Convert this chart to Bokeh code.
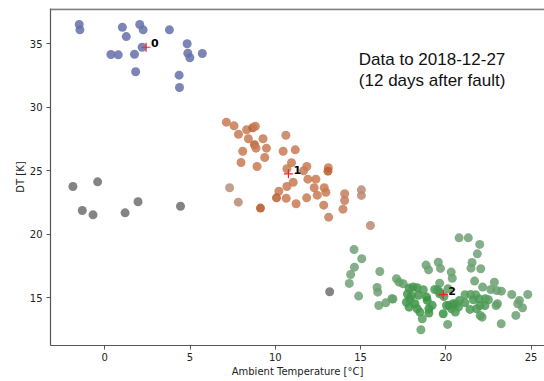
from bokeh.plotting import figure
from bokeh.models import Span, Label, Range1d
from bokeh.core.properties import value
from bokeh.embed import file_html
from bokeh.resources import INLINE

# ---- data ----
blue_x = [-1.50, -1.46, 1.03, 2.05, 2.25, 3.79, 1.26, 2.19, 0.36, 0.79, 1.74, 4.83, 4.87, 4.99, 5.72, 1.81, 4.36, 4.38]
blue_y = [36.52, 36.10, 36.30, 36.52, 36.10, 36.10, 35.57, 34.73, 34.16, 34.13, 34.18, 35.00, 34.26, 33.90, 34.24, 32.80, 32.53, 31.56]

noise_x = [-1.87, -0.42, -1.32, -0.69, 1.19, 1.95, 4.44, 13.19]
noise_y = [23.76, 24.13, 21.87, 21.53, 21.69, 22.56, 22.21, 15.47]

orange_x = [7.13, 7.58, 7.84, 8.32, 8.68, 8.83, 8.42, 8.78, 8.87, 9.28, 9.48, 8.09, 7.99, 8.93, 9.38,
            10.62, 10.46, 11.17, 10.95, 10.68, 11.85, 11.66, 13.11, 13.09, 11.91, 12.38, 11.05, 10.68,
            12.28, 12.87, 12.97, 12.46, 10.21, 10.07, 10.64, 11.22, 11.84, 12.84, 9.13, 14.07, 14.07,
            13.97, 13.13, 15.05, 15.05, 7.32, 7.83, 15.58]
orange_y = [28.83, 28.54, 27.88, 28.23, 28.39, 28.51, 27.52, 27.05, 26.78, 27.52, 26.78, 26.54, 25.65, 25.34, 26.05,
            27.80, 26.54, 26.65, 25.63, 25.16, 25.34, 25.00, 25.24, 24.97, 24.34, 24.34, 24.10, 23.76,
            23.66, 23.66, 23.31, 23.08, 23.39, 22.87, 22.84, 22.40, 22.87, 22.29, 22.06, 23.19, 22.66,
            21.98, 21.35, 23.50, 23.06, 23.66, 22.53, 20.69]
orange_p = [0.6, 0.6, 0.6, 0.6, 0.9, 0.6, 0.6, 0.9, 0.6, 0.6, 0.6, 0.6, 0.6, 0.6, 0.6,
            0.5, 0.6, 0.6, 0.6, 0.6, 0.6, 0.6, 0.6, 0.9, 0.6, 0.6, 0.6, 0.6,
            0.6, 0.6, 0.6, 0.6, 0.6, 0.9, 0.6, 0.6, 0.6, 0.6, 1.0, 0.5, 0.5,
            0.5, 0.5, 0.25, 0.25, 0.15, 0.25, 0.3]

green_x = [14.62, 15.07, 14.64, 14.42, 14.34, 14.89, 16.13, 15.97, 16.01, 16.07, 16.48, 16.84, 17.11, 17.26, 17.50,
           17.85, 18.09, 18.32, 17.75, 17.99, 17.69, 17.85, 18.19, 18.32, 18.68, 18.87, 18.91, 19.01, 19.01, 18.48,
           18.62, 18.54, 18.84, 18.99, 19.56, 19.69, 20.32, 20.38, 19.64, 19.52, 19.66, 19.89, 19.85, 20.11, 20.21,
           20.34, 20.60, 20.74, 20.56, 20.78, 21.32, 21.99, 21.85, 21.54, 21.48, 22.05, 21.69, 22.16, 21.13, 21.46,
           21.75, 21.62, 21.95, 22.32, 22.50, 21.42, 21.81, 22.01, 22.13, 22.64, 22.85, 22.99, 23.26, 23.03, 22.95,
           23.25, 23.87, 24.32, 24.22, 24.50, 24.11, 24.81, 19.35, 19.64, 20.13, 20.04, 20.43, 20.80, 21.13, 22.30,
           22.02, 18.40, 17.90, 16.90, 19.20]
green_y = [18.80, 18.07, 17.41, 16.83, 16.13, 15.13, 17.07, 15.81, 15.44, 14.39, 14.60, 14.92, 16.50, 16.23, 16.10,
           15.76, 15.84, 15.79, 15.30, 15.17, 14.65, 14.26, 14.53, 14.13, 15.63, 15.05, 14.79, 14.13, 13.79, 13.87,
           13.35, 12.48, 17.57, 17.20, 17.80, 17.31, 17.02, 16.54, 16.15, 15.63, 15.44, 15.10, 13.74, 12.90, 14.39,
           14.13, 14.53, 14.26, 13.87, 19.72, 19.72, 19.20, 18.46, 17.78, 17.33, 17.28, 16.31, 15.84, 15.24, 15.26,
           15.24, 14.84, 14.92, 14.92, 14.84, 14.08, 14.13, 14.39, 13.47, 15.65, 16.23, 15.57, 15.52, 14.53, 14.39,
           12.95, 15.26, 14.79, 14.53, 14.21, 13.61, 15.26, 15.65, 15.31, 15.71, 14.39, 14.53, 14.79, 14.60, 14.39,
           13.60, 15.20, 14.90, 14.90, 14.40]
green_p = [0.3, 0.3, 0.3, 0.3, 0.3, 0.3, 0.3, 0.35, 0.35, 0.35, 0.5, 0.6, 0.5, 0.6, 0.6,
           0.9, 0.9, 0.9, 0.9, 0.9, 0.9, 0.9, 1.0, 0.9, 0.8, 1.0, 1.0, 1.0, 0.9, 0.9,
           0.7, 0.6, 0.4, 0.4, 0.4, 0.4, 0.45, 0.45, 0.5, 0.8, 0.8, 0.8, 1.0, 0.6, 0.9,
           0.9, 0.8, 0.8, 0.8, 0.3, 0.3, 0.3, 0.3, 0.35, 0.35, 0.35, 0.5, 0.6, 0.7, 0.7,
           0.7, 0.8, 0.8, 0.8, 0.7, 0.8, 0.8, 0.8, 0.6, 0.5, 0.45, 0.5, 0.5, 0.6, 0.6,
           0.4, 0.4, 0.4, 0.4, 0.4, 0.4, 0.35, 0.8, 0.8, 0.7, 0.9, 0.9, 0.8, 0.8, 0.8,
           0.7, 0.9, 0.9, 0.6, 0.9]

centroid_x = [2.42, 10.77, 19.85]
centroid_y = [34.73, 24.76, 15.24]
centroid_labels = ["0", "1", "2"]

x_ticks = [0, 5, 10, 15, 20, 25]
y_ticks = [15, 20, 25, 30, 35]
note_lines = ["Data to 2018-12-27", "(12 days after fault)"]


def mix(c1, c2, t):
    return tuple(int(round(a + (b - a) * t)) for a, b in zip(c1, c2))


def shade(p, low, mid, high):
    if p <= 0.6:
        c = mix(low, mid, p / 0.6)
    else:
        c = mix(mid, high, (p - 0.6) / 0.4)
    return "#%02x%02x%02x" % c


orange_colors = [shade(p, (176, 150, 138), (200, 122, 84), (182, 84, 34)) for p in orange_p]
green_colors = [shade(p, (124, 160, 130), (100, 160, 106), (56, 148, 66)) for p in green_p]

p = figure(width=544, height=381, output_backend="svg", toolbar_location=None,
           x_range=Range1d(-3.185, 25.79), y_range=Range1d(11.24, 37.78),
           min_border_left=50, min_border_right=0, min_border_top=8, min_border_bottom=36)
p.background_fill_color = "white"
p.border_fill_color = "white"
p.outline_line_color = None
p.xgrid.visible = False
p.ygrid.visible = False

FONT = "DejaVu Sans"
for ax in (p.xaxis[0], p.yaxis[0]):
    ax.axis_line_color = "#555555"
    ax.axis_line_width = 1.2
    ax.major_tick_line_color = "#555555"
    ax.major_tick_out = 4
    ax.major_tick_in = 0
    ax.minor_tick_line_color = None
    ax.major_label_text_font = FONT
    ax.major_label_text_font_size = "10px"
    ax.major_label_text_color = "#222222"
    ax.axis_label_text_font = FONT
    ax.axis_label_text_font_size = "10px"
    ax.axis_label_text_font_style = "normal"
    ax.axis_label_text_color = "#222222"

p.xaxis.ticker = x_ticks
p.yaxis.ticker = y_ticks
p.xaxis.axis_label = "Ambient Temperature [°C]"
p.yaxis.axis_label = "DT [K]"
p.xaxis.major_label_standoff = 3
p.xaxis.axis_label_standoff = 2
p.yaxis.major_label_standoff = 4
p.yaxis.axis_label_standoff = 1

# top spine
p.add_layout(Span(location=37.72, dimension="width", line_color="#808080", line_width=2))

ALPHA = 0.85
SIZE = 9
p.scatter(noise_x, noise_y, size=SIZE, fill_color="#6e6e6e", line_color=None, fill_alpha=ALPHA)
p.scatter(blue_x, blue_y, size=SIZE, fill_color="#6571a9", line_color=None, fill_alpha=ALPHA)
p.scatter(orange_x, orange_y, size=SIZE, fill_color=orange_colors, line_color=None, fill_alpha=ALPHA)
p.scatter(green_x, green_y, size=SIZE, fill_color=green_colors, line_color=None, fill_alpha=ALPHA)

p.scatter(centroid_x, centroid_y, marker="cross", size=9, line_color="#e8262a", line_width=1.2)
p.text(centroid_x, centroid_y, text=centroid_labels, x_offset=5, y_offset=-4,
       text_font=value(FONT), text_font_size="11px", text_font_style="bold",
       text_color="black", text_baseline="middle", text_align="left")

p.add_layout(Label(x=14.9, y=33.76, text=note_lines[0], text_font="Liberation Sans",
                   text_font_size="17px", text_color="#111111", text_baseline="alphabetic"))
p.add_layout(Label(x=14.9, y=32.11, text=note_lines[1], text_font="Liberation Sans",
                   text_font_size="17px", text_color="#111111", text_baseline="alphabetic"))

open("out.html", "w").write(file_html(p, INLINE))
